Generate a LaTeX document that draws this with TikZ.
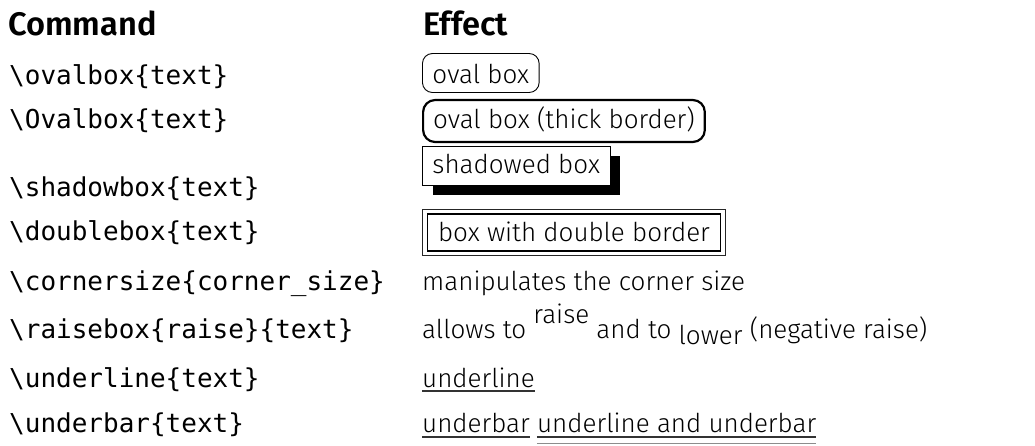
\documentclass[tikz,border=0pt]{standalone}
\usepackage{fontspec}
\usetikzlibrary{shadows,fit,calc}
\IfFontExistsTF{Fira Sans Light}{\setmainfont{Fira Sans Light}}{\setmainfont{Fira Sans}}
\IfFontExistsTF{Fira Sans SemiBold}{\newfontfamily\headfam{Fira Sans SemiBold}}{\newfontfamily\headfam{Fira Sans}[FakeBold=1.2]}
\setmonofont{DejaVu Sans Mono}
\newcommand\cmdfont{\ttfamily\fontsize{26}{30}\selectfont}
\newcommand\efffont{\rmfamily\fontsize{26}{30}\selectfont}
\newcommand\headfont{\headfam\fontsize{32.6}{36}\selectfont}
\tikzset{
  cmd/.style={anchor=base west, inner sep=0pt, font=\cmdfont},
  eff/.style={anchor=base west, inner sep=0pt, font=\efffont},
  head/.style={anchor=base west, inner sep=0pt, font=\headfont},
  framed/.style={anchor=base west, draw=black, fill=white, font=\efffont,
    inner xsep=10pt, inner ysep=0pt},
  rule/.style={line width=1.1pt, draw=black!80},
  lightrule/.style={line width=0.9pt, draw=black!45},
}
\begin{document}
\begin{tikzpicture}[x=1pt,y=1pt]
\useasboundingbox (0,0) rectangle (1035,-445);

% column headings
\node[head] (hcmd) at (8,-35) {Command};
\node[head] (heff) at (423,-35) {Effect};

% \ovalbox
\node[cmd] (c1) at (9,-84) {\string\ovalbox\{text\}};
\node[framed, rounded corners=10pt, line width=0.9pt,
      text height=30pt, text depth=9pt] (e1) at (422,-83.5) {oval box};

% \Ovalbox
\node[cmd] (c2) at (9,-128.5) {\string\Ovalbox\{text\}};
\node[framed, rounded corners=12pt, line width=2.2pt,
      text height=28pt, text depth=14pt] (e2) at (422,-128) {oval box (thick border)};

% \shadowbox
\node[cmd] (c3) at (9,-196) {\string\shadowbox\{text\}};
\node[framed, line width=0.9pt, text height=27pt, text depth=12pt,
      drop shadow={shadow xshift=10.5pt, shadow yshift=-10pt, fill=black, opacity=1}]
      (e3) at (422,-173) {shadowed box};

% \doublebox
\node[cmd] (c4) at (9,-240) {\string\doublebox\{text\}};
\node[framed, line width=1.1pt, inner xsep=11pt, text height=27pt, text depth=10pt]
      (e4) at (426.5,-241) {box with double border};
\node[draw=black!85, line width=1.8pt, inner sep=4pt, fit=(e4)] (e4o) {};

% \cornersize
\node[cmd] (c5) at (9,-290) {\string\cornersize\{corner\_size\}};
\node[eff] (e5) at (422,-290) {manipulates the corner size};

% \raisebox
\node[cmd] (c6) at (9,-338) {\string\raisebox\{raise\}\{text\}};
\node[eff] (e6) at (422,-338) {allows to \raisebox{15pt}{raise} and to \raisebox{-6pt}{lower} (negative raise)};

% \underline
\node[cmd] (c7) at (9,-387) {\string\underline\{text\}};
\node[eff] (e7) at (422,-387) {underline};
\draw[rule] ([yshift=-4pt]e7.base west) -- ([yshift=-4pt]e7.base east);

% \underbar
\node[cmd] (c8) at (9,-432) {\string\underbar\{text\}};
\node[eff] (e8a) at (422,-432) {underbar};
\node[eff] (e8b) at ([xshift=7pt]e8a.base east) {underline and underbar};
\draw[rule] ([yshift=-5pt]e8a.base west) -- ([yshift=-5pt]e8a.base east);
\draw[rule] ([yshift=-5pt]e8b.base west) -- ([yshift=-5pt]e8b.base east);
\draw[lightrule] ([yshift=-11.5pt]e8b.base west) -- ([yshift=-11.5pt]e8b.base east);
\end{tikzpicture}
\end{document}
